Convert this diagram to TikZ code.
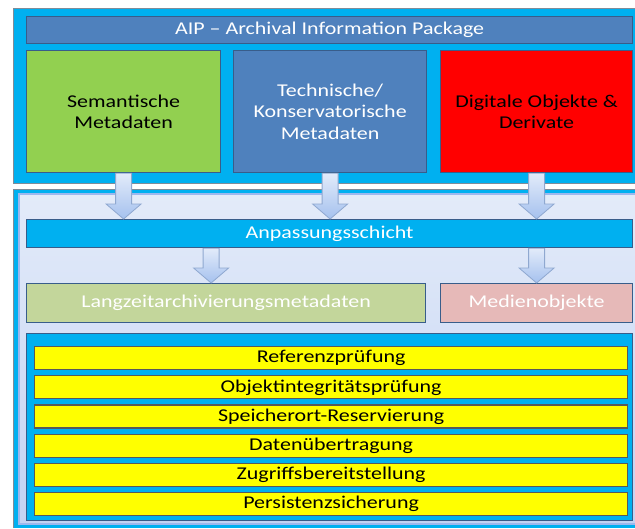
\documentclass[tikz,border=0pt]{standalone}
\usepackage{fontspec}
\setmainfont[FakeStretch=1.22]{Carlito}
\usetikzlibrary{positioning, calc}

\definecolor{cyanb}{HTML}{00B0F0}
\definecolor{aipblue}{HTML}{4F81BD}
\definecolor{semgreen}{HTML}{92D050}
\definecolor{digred}{HTML}{FF0000}
\definecolor{lzagreen}{HTML}{C3D69B}
\definecolor{medrose}{HTML}{E6B9B8}
\definecolor{checkyellow}{HTML}{FFFF00}
\definecolor{boxline}{HTML}{385D8A}
\definecolor{frameline}{HTML}{7F8C99}
\definecolor{innertop}{HTML}{E3EBF9}
\definecolor{innerbot}{HTML}{C3D3F3}
\definecolor{innerline}{HTML}{9DB8EE}
\definecolor{arrowtop}{HTML}{E2EBFA}
\definecolor{arrowbot}{HTML}{A5C1EE}
\definecolor{arrowline}{HTML}{8FA8D0}

\tikzset{
  frame/.style={draw=frameline, line width=0.8pt, fill=cyanb, inner sep=0pt, anchor=north west},
  box/.style={draw=boxline, line width=1.2pt, inner sep=0pt, align=center, anchor=north west,
    font=\fontsize{18}{21.5}\selectfont},
  bar/.style={box, text=white},
  check/.style={box, fill=checkyellow, draw=black!65, minimum width=593pt, minimum height=23pt},
  barrow/.style={draw=arrowline, line width=0.8pt, top color=arrowtop, bottom color=arrowbot,
    to path={let \p1=(\tikztostart), \p2=(\tikztotarget) in
      (\x1-8pt,\y1) -- (\x1-8pt,\y2+15pt) -- (\x1-17.5pt,\y2+15pt) -- (\x1,\y2)
      -- (\x1+17.5pt,\y2+15pt) -- (\x1+8pt,\y2+15pt) -- (\x1+8pt,\y1) -- cycle}}
}

\begin{document}
\begin{tikzpicture}[x=1pt, y=-1pt]
  \useasboundingbox[fill=white] (0,0) rectangle (635,528);

  % Rahmen
  \node[frame, minimum width=630pt, minimum height=175pt] (aip) at (13,8) {};
  \fill[cyanb] (13,189) rectangle (636,528);
  \draw[frameline, line width=0.8pt] (636,189) -- (13,189) -- (13,528);
  \fill[innerbot] (19,194) rectangle (640,524);
  \shade[top color=innertop, bottom color=innerbot] (19,194) rectangle (640,524);
  \draw[innerline, line width=1.5pt] (640,524) -- (19,524) -- (19,194) -- (640,194);

  % AIP
  \node[bar, fill=aipblue, minimum width=606pt, minimum height=27pt] (aiphead) at (26,16)
    {AIP – Archival Information Package};
  \node[box, fill=semgreen, minimum width=194pt, minimum height=122pt] (sem) at (26,50)
    {Semantische\\Metadaten};
  \node[box, fill=aipblue, text=white, minimum width=193pt, minimum height=122pt] (tech) at (233,50)
    {Technische/\\Konservatorische\\Metadaten};
  \node[box, fill=digred, minimum width=192pt, minimum height=122pt] (dig) at (440,50)
    {Digitale Objekte \&\\Derivate};

  % Anpassung
  \node[bar, fill=cyanb, minimum width=606pt, minimum height=28pt] (anp) at (26,219) {Anpassungsschicht};
  \node[bar, fill=lzagreen, minimum width=399pt, minimum height=39pt] (lza) at (26,283)
    {Langzeitarchivierungsmetadaten};
  \node[bar, fill=medrose, minimum width=192pt, minimum height=39pt] (med) at (440,283) {Medienobjekte};

  % Prüfungen
  \node[box, fill=cyanb, minimum width=606pt, minimum height=187pt] (checks) at (26,333) {};
  \foreach \name/\txt [count=\i from 0] in {ref/Referenzprüfung, obj/Objektintegritätsprüfung,
      spe/Speicherort-Reservierung, dat/Datenübertragung, zug/Zugriffsbereitstellung,
      per/Persistenzsicherung}
    \node[check] (\name) at (34,{346+29.2*\i}) {\txt};

  % Pfeile
  \draw[barrow] (sem.south) to (sem.south |- anp.north);
  \draw[barrow] (tech.south) to (tech.south |- anp.north);
  \draw[barrow] (dig.south) to (dig.south |- anp.north);
  \path (lza.north) ++(-15,0) coordinate (lzain);
  \draw[barrow] (lzain |- anp.south) to (lzain);
  \draw[barrow] (med.north |- anp.south) to (med.north);
\end{tikzpicture}
\end{document}
